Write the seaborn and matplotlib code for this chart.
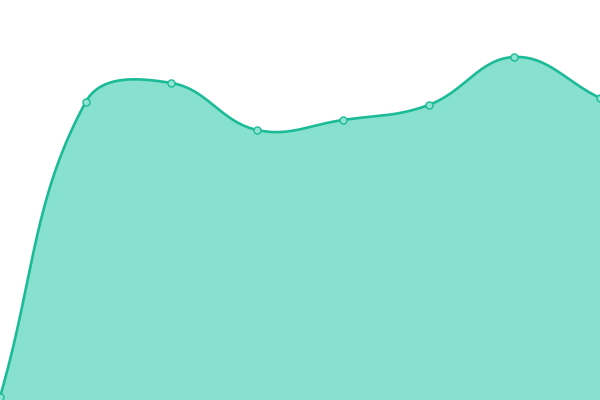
import numpy as np
import pandas as pd
import seaborn as sns
import matplotlib.pyplot as plt

# Data (category index, value on a 0-400 scale)
categories = [0, 1, 2, 3, 4, 5, 6, 7]
values = [3, 298, 317, 270, 280, 295, 343, 302]

LINE = "#1cbb98"
FILL = "#88e0ce"
MARK = "#8fe3d0"

W, H = 600, 400
x_max, y_max = 7, 400


def smooth_curve(xs, ys, tension=0.4, n=60):
    # spline with distance-weighted bezier control points, in pixel space
    px = np.array(xs, float) * W / x_max
    py = np.array(ys, float) * H / y_max
    m = len(px)
    cps = []
    for i in range(m):
        prev = (px[max(i - 1, 0)], py[max(i - 1, 0)])
        nxt = (px[min(i + 1, m - 1)], py[min(i + 1, m - 1)])
        d01 = np.hypot(px[i] - prev[0], py[i] - prev[1])
        d12 = np.hypot(nxt[0] - px[i], nxt[1] - py[i])
        fa = d01 / (d01 + d12)
        fb = d12 / (d01 + d12)
        vx, vy = nxt[0] - prev[0], nxt[1] - prev[1]
        before = (px[i] - fa * tension * vx, py[i] - fa * tension * vy)
        after = (px[i] + fb * tension * vx, py[i] + fb * tension * vy)
        before = (np.clip(before[0], 0, W), np.clip(before[1], 0, H))
        after = (np.clip(after[0], 0, W), np.clip(after[1], 0, H))
        cps.append((before, after))
    t = np.linspace(0, 1, n)[:, None]
    pts = []
    for i in range(m - 1):
        p0 = np.array([px[i], py[i]])
        p1 = np.array(cps[i][1])
        p2 = np.array(cps[i + 1][0])
        p3 = np.array([px[i + 1], py[i + 1]])
        seg = ((1 - t) ** 3) * p0 + 3 * ((1 - t) ** 2) * t * p1 + 3 * (1 - t) * t ** 2 * p2 + t ** 3 * p3
        pts.append(seg if i == 0 else seg[1:])
    pts = np.vstack(pts)
    return pts[:, 0] * x_max / W, pts[:, 1] * y_max / H


sx, sy = smooth_curve(categories, values)
curve = pd.DataFrame({"x": sx, "y": sy})
points = pd.DataFrame({"x": categories, "y": values})

fig = plt.figure(figsize=(6, 4), dpi=100)
ax = fig.add_axes([0, 0, 1, 1])

ax.fill_between(curve["x"], 0, curve["y"], color=FILL, linewidth=0)
sns.lineplot(data=curve, x="x", y="y", ax=ax, color=LINE, linewidth=1.9, sort=False)
sns.scatterplot(data=points, x="x", y="y", ax=ax, color=MARK, edgecolor=LINE,
                linewidth=1.0, s=26, zorder=5)

ax.set_xlim(0, x_max)
ax.set_ylim(0, y_max)
ax.axis("off")

fig.savefig("out.png", dpi=100)
